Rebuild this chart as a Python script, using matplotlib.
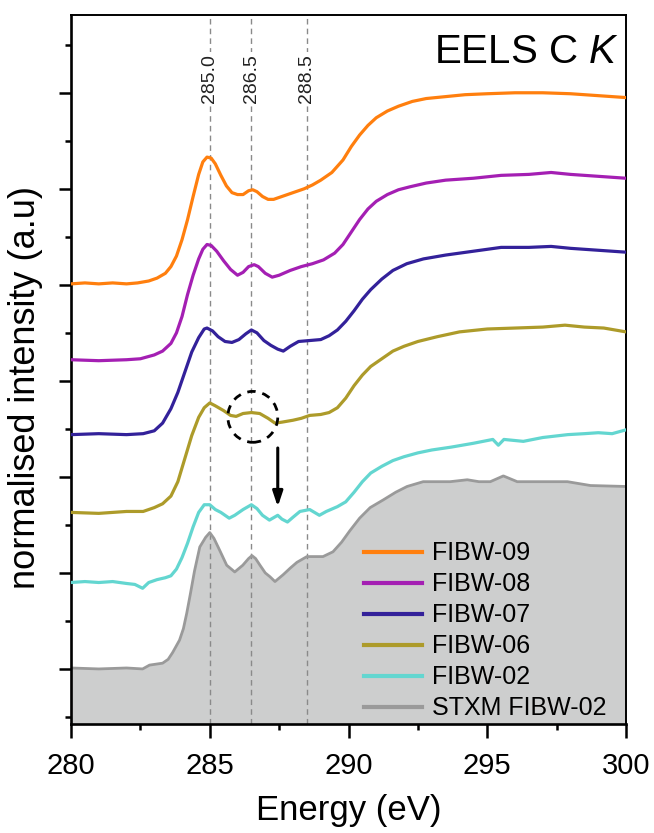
import numpy as np
import matplotlib
matplotlib.use("Agg")
import matplotlib.pyplot as plt
from matplotlib.patches import Ellipse

plt.rcParams["font.family"] = "Liberation Sans"
plt.rcParams["mathtext.fontset"] = "custom"
plt.rcParams["mathtext.rm"] = "Liberation Sans"
plt.rcParams["mathtext.it"] = "Liberation Sans:italic"

# ---- data (energy in eV, offset intensity) ----
e_09 = [280.0, 280.5, 281.0, 281.5, 282.0, 282.4, 282.8, 283.1, 283.4, 283.6, 283.8,
        284.0, 284.2, 284.4, 284.6, 284.75, 284.9, 285.05, 285.2, 285.4, 285.6, 285.8,
        286.0, 286.2, 286.4, 286.55, 286.7, 286.9, 287.1, 287.3, 287.6, 288.0, 288.4,
        288.7, 289.0, 289.4, 289.8, 290.1, 290.4, 290.7, 291.0, 291.4, 291.8, 292.3,
        292.8, 293.5, 294.2, 295.0, 296.0, 297.0, 298.0, 299.0, 300.0]
i_09 = [4.01, 4.02, 4.01, 4.02, 4.01, 4.02, 4.04, 4.07, 4.12, 4.19, 4.30,
        4.47, 4.68, 4.92, 5.15, 5.28, 5.33, 5.32, 5.26, 5.14, 5.03, 4.96,
        4.94, 4.94, 4.98, 4.99, 4.97, 4.92, 4.89, 4.89, 4.92, 4.96, 5.00,
        5.04, 5.09, 5.17, 5.30, 5.44, 5.56, 5.66, 5.74, 5.81, 5.86, 5.91,
        5.94, 5.96, 5.98, 5.99, 6.00, 6.00, 5.99, 5.97, 5.95]

e_08 = [280.0, 281.0, 282.0, 282.5, 283.0, 283.3, 283.6, 283.8, 284.0, 284.2, 284.4,
        284.6, 284.75, 284.9, 285.05, 285.25, 285.5, 285.75, 286.0, 286.2, 286.4,
        286.6, 286.75, 287.0, 287.25, 287.5, 287.9, 288.3, 288.7, 289.1, 289.5,
        289.8, 290.1, 290.4, 290.7, 291.0, 291.4, 291.8, 292.2, 292.8, 293.5,
        294.5, 295.5, 296.5, 297.3, 298.0, 299.0, 300.0]
i_08 = [3.22, 3.21, 3.22, 3.23, 3.27, 3.31, 3.39, 3.50, 3.67, 3.90, 4.10,
        4.27, 4.37, 4.42, 4.41, 4.35, 4.25, 4.16, 4.10, 4.13, 4.19,
        4.21, 4.19, 4.12, 4.08, 4.10, 4.15, 4.19, 4.22, 4.26, 4.33,
        4.42, 4.55, 4.68, 4.79, 4.87, 4.94, 4.99, 5.02, 5.06, 5.09,
        5.11, 5.14, 5.15, 5.17, 5.15, 5.13, 5.11]

e_07 = [280.0, 281.0, 282.0, 282.6, 283.0, 283.3, 283.6, 283.85, 284.1, 284.35, 284.6,
        284.8, 284.9, 285.1, 285.3, 285.55, 285.8, 286.05, 286.3, 286.5, 286.7,
        286.95, 287.2, 287.45, 287.65, 287.9, 288.2, 288.6, 289.0, 289.3, 289.6,
        289.9, 290.2, 290.5, 290.8, 291.2, 291.6, 292.1, 292.7, 293.5, 294.5,
        295.5, 296.5, 297.3, 298.0, 299.0, 300.0]
i_07 = [2.44, 2.45, 2.44, 2.45, 2.48, 2.56, 2.71, 2.88, 3.09, 3.30, 3.45,
        3.54, 3.55, 3.52, 3.46, 3.41, 3.40, 3.43, 3.49, 3.53, 3.50,
        3.42, 3.37, 3.33, 3.31, 3.36, 3.41, 3.42, 3.43, 3.47, 3.53,
        3.62, 3.73, 3.85, 3.95, 4.06, 4.15, 4.22, 4.27, 4.31, 4.35,
        4.39, 4.39, 4.40, 4.38, 4.36, 4.34]

e_06 = [280.0, 281.0, 282.0, 282.6, 283.0, 283.3, 283.6, 283.85, 284.1, 284.35, 284.6,
        284.8, 285.0, 285.2, 285.5, 285.75, 285.95, 286.2, 286.5, 286.8, 287.1,
        287.35, 287.6, 288.0, 288.3, 288.6, 289.0, 289.3, 289.6, 289.9, 290.2,
        290.5, 290.8, 291.2, 291.6, 292.0, 292.5, 293.2, 294.0, 295.0, 296.0,
        297.0, 297.8, 298.5, 299.2, 300.0]
i_06 = [1.63, 1.62, 1.64, 1.64, 1.68, 1.72, 1.80, 1.95, 2.19, 2.43, 2.62,
        2.72, 2.77, 2.74, 2.69, 2.64, 2.63, 2.66, 2.67, 2.66, 2.61,
        2.56, 2.57, 2.59, 2.61, 2.64, 2.65, 2.67, 2.72, 2.82, 2.95,
        3.06, 3.15, 3.23, 3.31, 3.36, 3.41, 3.46, 3.51, 3.54, 3.55,
        3.56, 3.58, 3.56, 3.55, 3.51]

e_02 = [280.0, 280.5, 281.0, 281.5, 282.0, 282.3, 282.58, 282.8, 283.1, 283.4, 283.6,
        283.8, 284.0, 284.2, 284.4, 284.6, 284.8, 285.0, 285.2, 285.4, 285.7,
        285.9, 286.2, 286.5, 286.7, 286.9, 287.15, 287.45, 287.6, 287.8, 288.0,
        288.25, 288.6, 288.95, 289.2, 289.6, 289.9, 290.2, 290.5, 290.8, 291.2,
        291.6, 292.0, 292.5, 293.0, 293.7, 294.5, 295.2, 295.4, 295.6, 296.3,
        297.0, 297.9, 298.5, 299.0, 299.5, 300.0]
i_02 = [0.90, 0.91, 0.90, 0.91, 0.89, 0.88, 0.84, 0.90, 0.93, 0.95, 0.97,
        1.04, 1.16, 1.31, 1.48, 1.63, 1.71, 1.71, 1.66, 1.63, 1.57,
        1.60, 1.66, 1.71, 1.67, 1.60, 1.55, 1.60, 1.56, 1.53, 1.58,
        1.64, 1.66, 1.60, 1.64, 1.69, 1.74, 1.84, 1.95, 2.04, 2.11,
        2.17, 2.21, 2.25, 2.28, 2.31, 2.35, 2.39, 2.33, 2.39, 2.37,
        2.41, 2.44, 2.45, 2.46, 2.45, 2.49]

e_stxm = [280.0, 281.0, 282.0, 282.58, 282.83, 283.3, 283.5, 283.66, 283.91, 284.05, 284.17,
          284.3, 284.45, 284.64, 284.85, 285.0, 285.15, 285.35, 285.61, 285.9, 286.19,
          286.4, 286.52, 286.65, 286.81, 287.0, 287.17, 287.35, 287.64, 287.9, 288.14,
          288.5, 289.08, 289.44, 289.75, 290.05, 290.4, 290.78, 291.25, 291.7, 292.11,
          292.69, 293.66, 294.28, 294.7, 295.11, 295.58, 296.08, 297.0, 297.89, 298.72,
          300.0]
i_stxm = [0.01, 0.00, 0.01, 0.00, 0.04, 0.06, 0.10, 0.17, 0.30, 0.42, 0.58,
          0.78, 1.02, 1.27, 1.37, 1.42, 1.36, 1.24, 1.08, 1.01, 1.08,
          1.15, 1.18, 1.15, 1.08, 1.00, 0.96, 0.91, 0.98, 1.05, 1.11,
          1.17, 1.17, 1.22, 1.32, 1.44, 1.57, 1.68, 1.76, 1.84, 1.90,
          1.95, 1.95, 1.97, 1.95, 1.95, 2.01, 1.95, 1.95, 1.95, 1.91,
          1.90]

peak_lines = [285.0, 286.5, 288.5]
peak_labels = ["285.0", "286.5", "288.5"]

series = [
    ("FIBW-09", e_09, i_09, "#ff7f0e"),
    ("FIBW-08", e_08, i_08, "#a41fb3"),
    ("FIBW-07", e_07, i_07, "#33219a"),
    ("FIBW-06", e_06, i_06, "#ad9b2a"),
    ("FIBW-02", e_02, i_02, "#63d6d0"),
]

fig = plt.figure(figsize=(6.54, 8.33), dpi=100)
ax = fig.add_axes([0.1086, 0.1309, 0.8486, 0.8511])

ymin, ymax = -0.573, 6.81

# ---- STXM reference as filled area ----
ax.fill_between(e_stxm, i_stxm, ymin, color="#cdcece", lw=0, zorder=0)
ax.plot(e_stxm, i_stxm, color="#9a9a9a", lw=2.0, zorder=2, label="STXM FIBW-02")

# ---- peak markers ----
for xv, lab in zip(peak_lines, peak_labels):
    ax.axvline(xv, color="#8a8a8a", lw=1.0, ls=(0, (4, 3)), zorder=1)
    ax.text(xv, 6.15, lab, rotation=90, ha="center", va="center", fontsize=14,
            color="#222222", zorder=3,
            bbox=dict(facecolor="white", edgecolor="none", pad=1.5))

# ---- EELS spectra ----
for name, e, i, c in series:
    ax.plot(e, i, color=c, lw=2.3, zorder=4, label=name)

# ---- annotation: dashed circle + arrow ----
ax.add_patch(Ellipse((286.55, 2.625), 1.8, 0.53, fill=False, ec="black",
                     lw=2.0, ls=(0, (3, 2.5)), zorder=5))
ax.annotate("", xy=(287.45, 1.66), xytext=(287.45, 2.33),
            arrowprops=dict(arrowstyle="-|>,head_length=0.9,head_width=0.3",
                            color="black", lw=2.2), zorder=5)

ax.text(0.986, 0.932, r"EELS C $\mathit{K}$", transform=ax.transAxes,
        ha="right", va="baseline", fontsize=29)

# ---- axes ----
ax.set_xlim(280, 300)
ax.set_ylim(ymin, ymax)
ax.set_xticks([280, 285, 290, 295, 300])
ax.set_xticks([282.5, 287.5, 292.5, 297.5], minor=True)
ax.set_yticks(np.arange(0, 7))
ax.set_yticks(np.arange(-0.5, 7, 1.0), minor=True)
ax.set_yticklabels([])

ax.tick_params(axis="both", which="major", direction="out", width=1.8, labelsize=21)
ax.tick_params(axis="x", which="major", length=10, pad=10)
ax.tick_params(axis="x", which="minor", length=4.5, width=1.8)
ax.tick_params(axis="y", which="major", length=8.5)
ax.tick_params(axis="y", which="minor", length=4.3, width=1.8)
ax.tick_params(top=False, right=False, which="both")

for side in ["left", "bottom"]:
    ax.spines[side].set_linewidth(1.9)
for side in ["top", "right"]:
    ax.spines[side].set_linewidth(1.4)

ax.set_xlabel("Energy (eV)", fontsize=25, labelpad=10)
ax.set_ylabel("normalised intensity (a.u)", fontsize=26)
ax.yaxis.set_label_coords(-0.05, 0.474)

handles, labels = ax.get_legend_handles_labels()
order = ["FIBW-09", "FIBW-08", "FIBW-07", "FIBW-06", "FIBW-02", "STXM FIBW-02"]
hmap = dict(zip(labels, handles))
leg = ax.legend([hmap[k] for k in order], order, loc="lower left",
                bbox_to_anchor=(0.528, 0.005), frameon=False, fontsize=18,
                handlelength=2.3, handletextpad=0.4, labelspacing=0.28,
                borderpad=0, borderaxespad=0)
for ln in leg.get_lines():
    ln.set_linewidth(3.0)

fig.savefig("out.png", dpi=100)
